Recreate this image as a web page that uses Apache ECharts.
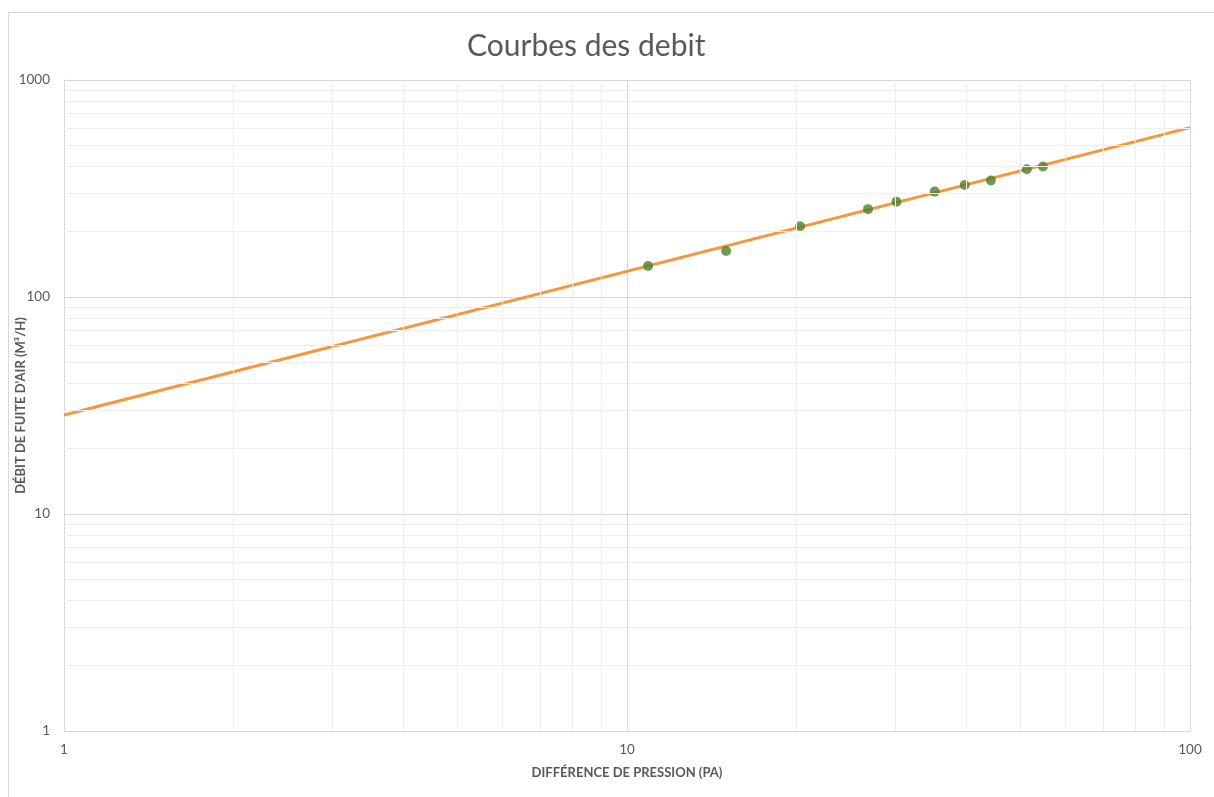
<!DOCTYPE html>
<html>
	<head>
		<meta charset="utf-8">
		<title>Courbes des debit</title>
		<script src="https://cdn.jsdelivr.net/npm/echarts@6/dist/echarts.min.js"></script>
		<style>
			body { margin: 0; background: #fff; }
			#frame { position: absolute; left: 8px; top: 12px; width: 1220px; height: 800px; border: 1px solid #d9d9d9; }
			#main { position: absolute; left: 0; top: 0; width: 1214px; height: 797px; }
		</style>
	</head>
	<body>
		<div id="frame"></div>
		<div id="main"></div>
		<script type="text/javascript">
		// mesures (pression Pa / debit m3/h)
		var pressions = [10.9, 15.0, 20.3, 26.8, 30.1, 35.2, 39.8, 44.3, 51.3, 54.8];
		var debits = [139, 163, 212, 254, 275, 306, 328, 344, 388, 399];
		// courbe de tendance (extremites)
		var tendanceX = [1, 100];
		var tendanceY = [28.6, 603];
		// lignes secondaires de la grille
		var grilleX = [2, 3, 4, 5, 6, 7, 8, 9, 20, 30, 40, 50, 60, 70, 80, 90];
		var grilleY = [2, 3, 4, 5, 6, 7, 8, 9, 20, 30, 40, 50, 60, 70, 80, 90, 200, 300, 400, 500, 600, 700, 800, 900];

		var mesures = [];
		for (var i = 0; i < pressions.length; i++) {
			mesures.push([pressions[i], debits[i]]);
		}
		var tendance = [];
		for (var j = 0; j < tendanceX.length; j++) {
			tendance.push([tendanceX[j], tendanceY[j]]);
		}
		var lignes = [];
		for (a of grilleX) lignes.push({ xAxis: a });
		for (b of grilleY) lignes.push({ yAxis: b });

		var myChart = echarts.init(document.getElementById('main'));
		var gris = '#595959';
		myChart.setOption({
			animation: false,
			textStyle: { fontFamily: 'Lato' },
			title: {
				text: 'Courbes des debit',
				left: 462,
				top: 26,
				textStyle: { fontSize: 30, fontWeight: 'normal', color: gris, fontFamily: 'Lato' }
			},
			grid: { left: 64, right: 24, top: 80, bottom: 66, outerBoundsMode: 'none', containLabel: false },
			xAxis: {
				type: 'log',
				logBase: 10,
				min: 1,
				max: 100,
				name: 'DIFFÉRENCE DE PRESSION (PA)',
				nameLocation: 'middle',
				nameGap: 35,
				nameMoveOverlap: false,
				nameTextStyle: { fontSize: 13, fontWeight: 'bold', color: gris },
				axisLine: { lineStyle: { color: '#d9d9d9' } },
				axisTick: { show: false },
				axisLabel: { color: gris, fontSize: 13.5, margin: 12, formatter: function (v) { return String(v); } },
				splitLine: { show: true, lineStyle: { color: '#d9d9d9' } }
			},
			yAxis: {
				type: 'log',
				logBase: 10,
				min: 1,
				max: 1000,
				name: 'DÉBIT DE FUITE D\'AIR (M³/H)',
				nameLocation: 'middle',
				nameGap: 37,
				nameMoveOverlap: false,
				nameTextStyle: { fontSize: 13, fontWeight: 'bold', color: gris },
				axisLine: { show: true, lineStyle: { color: '#d9d9d9' } },
				axisTick: { show: false },
				axisLabel: { color: gris, fontSize: 13.5, margin: 14, formatter: function (v) { return String(v); } },
				splitLine: { show: true, lineStyle: { color: '#d9d9d9' } }
			},
			series: [
				{
					type: 'scatter',
					data: [],
					z: 1,
					silent: true,
					markLine: {
						silent: true,
						symbol: ['none', 'none'],
						label: { show: false },
						lineStyle: { color: '#eeeeee', type: 'solid', width: 1 },
						data: lignes
					}
				},
				{
					name: 'tendance',
					type: 'line',
					data: tendance,
					showSymbol: false,
					z: 3,
					lineStyle: { color: '#f7963a', width: 3 }
				},
				{
					name: 'mesures',
					type: 'scatter',
					data: mesures,
					symbolSize: 10,
					z: 4,
					itemStyle: { color: '#4e7f2c' }
				}
			]
		});
		</script>
	</body>
</html>
